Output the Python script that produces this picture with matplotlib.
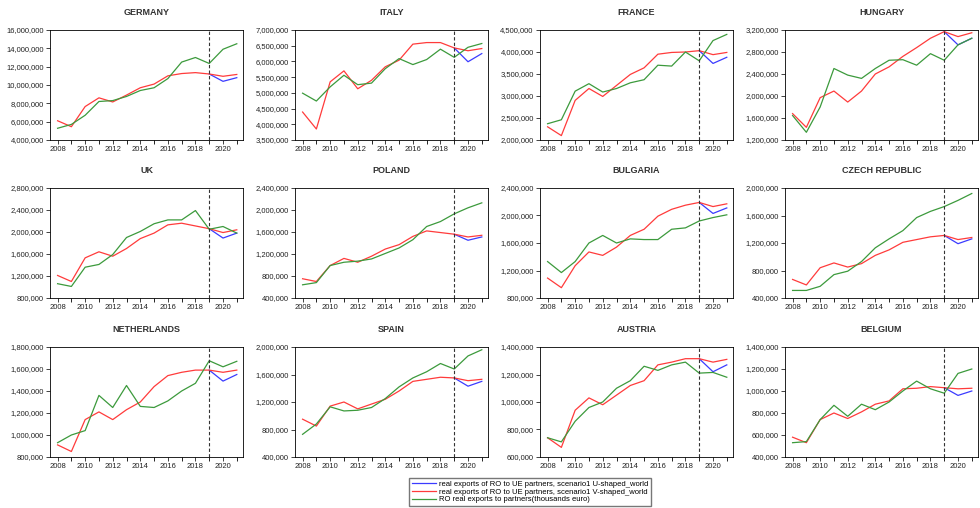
import numpy as np
import matplotlib
matplotlib.use('Agg')
import matplotlib.pyplot as plt
from matplotlib.ticker import FuncFormatter, MultipleLocator

plt.rcParams['font.family'] = ['Liberation Sans', 'DejaVu Sans']

years = list(range(2008, 2022))
scen_years = [2019, 2020, 2021]

countries = ['GERMANY', 'ITALY', 'FRANCE', 'HUNGARY',
             'UK', 'POLAND', 'BULGARIA', 'CZECH REPUBLIC',
             'NETHERLANDS', 'SPAIN', 'AUSTRIA', 'BELGIUM']

# values in millions of euro (thousands euro / 1000)
green = {
    'GERMANY': [5.28, 5.7, 6.7, 8.2, 8.3, 8.75, 9.4, 9.7, 10.7, 12.5, 13.0, 12.35, 13.9, 14.5],
    'ITALY': [4.99, 4.74, 5.19, 5.56, 5.26, 5.31, 5.77, 6.09, 5.9, 6.06, 6.39, 6.13, 6.45, 6.57],
    'FRANCE': [2.37, 2.46, 3.11, 3.28, 3.09, 3.17, 3.3, 3.37, 3.7, 3.68, 4.0, 3.8, 4.26, 4.4],
    'HUNGARY': [1.645, 1.34, 1.8, 2.5, 2.38, 2.32, 2.5, 2.65, 2.66, 2.56, 2.77, 2.65, 2.93, 3.05],
    'UK': [1.06, 1.01, 1.36, 1.41, 1.59, 1.9, 2.01, 2.15, 2.22, 2.22, 2.39, 2.05, 2.1, 1.98],
    'POLAND': [0.64, 0.68, 0.99, 1.05, 1.07, 1.11, 1.21, 1.31, 1.46, 1.7, 1.79, 1.93, 2.04, 2.13],
    'BULGARIA': [1.33, 1.17, 1.33, 1.6, 1.71, 1.6, 1.66, 1.65, 1.65, 1.8, 1.82, 1.92, 1.97, 2.01],
    'CZECH REPUBLIC': [0.51, 0.51, 0.57, 0.74, 0.79, 0.93, 1.13, 1.26, 1.38, 1.57, 1.66, 1.73, 1.82, 1.92],
    'NETHERLANDS': [0.93, 1.0, 1.04, 1.36, 1.25, 1.45, 1.26, 1.25, 1.31, 1.4, 1.47, 1.675, 1.62, 1.67],
    'SPAIN': [0.73, 0.88, 1.13, 1.07, 1.08, 1.12, 1.25, 1.42, 1.55, 1.64, 1.76, 1.68, 1.87, 1.96],
    'AUSTRIA': [0.74, 0.71, 0.86, 0.96, 1.0, 1.1, 1.155, 1.26, 1.23, 1.27, 1.29, 1.21, 1.215, 1.18],
    'BELGIUM': [0.53, 0.54, 0.74, 0.87, 0.77, 0.88, 0.83, 0.9, 1.0, 1.09, 1.02, 0.98, 1.16, 1.2],
}

red = {
    'GERMANY': [6.1, 5.45, 7.65, 8.6, 8.15, 8.9, 9.7, 10.1, 11.0, 11.25, 11.35, 11.2, 10.95, 11.15],
    'ITALY': [4.39, 3.85, 5.35, 5.7, 5.13, 5.4, 5.83, 6.04, 6.55, 6.6, 6.6, 6.43, 6.34, 6.41],
    'FRANCE': [2.3, 2.1, 2.9, 3.17, 2.99, 3.24, 3.49, 3.64, 3.95, 3.99, 4.0, 4.03, 3.94, 3.99],
    'HUNGARY': [1.68, 1.43, 1.97, 2.09, 1.89, 2.09, 2.4, 2.53, 2.72, 2.88, 3.05, 3.17, 3.08, 3.15],
    'UK': [1.21, 1.1, 1.53, 1.64, 1.56, 1.7, 1.88, 1.98, 2.13, 2.16, 2.11, 2.06, 1.99, 2.04],
    'POLAND': [0.75, 0.7, 0.99, 1.12, 1.05, 1.16, 1.29, 1.37, 1.52, 1.62, 1.59, 1.56, 1.51, 1.54],
    'BULGARIA': [1.09, 0.95, 1.27, 1.47, 1.42, 1.54, 1.71, 1.8, 1.99, 2.09, 2.15, 2.19, 2.13, 2.17],
    'CZECH REPUBLIC': [0.67, 0.59, 0.84, 0.91, 0.85, 0.9, 1.02, 1.1, 1.21, 1.25, 1.29, 1.31, 1.25, 1.28],
    'NETHERLANDS': [0.91, 0.85, 1.14, 1.21, 1.14, 1.23, 1.3, 1.44, 1.54, 1.57, 1.59, 1.59, 1.57, 1.59],
    'SPAIN': [0.95, 0.85, 1.14, 1.2, 1.1, 1.17, 1.24, 1.36, 1.5, 1.53, 1.56, 1.55, 1.51, 1.53],
    'AUSTRIA': [0.74, 0.67, 0.94, 1.03, 0.98, 1.05, 1.12, 1.155, 1.27, 1.29, 1.315, 1.315, 1.29, 1.31],
    'BELGIUM': [0.58, 0.53, 0.74, 0.8, 0.75, 0.81, 0.88, 0.91, 1.02, 1.025, 1.04, 1.03, 1.02, 1.025],
}

blue = {
    'GERMANY': [11.2, 10.4, 10.8],
    'ITALY': [6.43, 5.99, 6.25],
    'FRANCE': [4.03, 3.74, 3.88],
    'HUNGARY': [3.17, 2.93, 3.05],
    'UK': [2.06, 1.89, 1.98],
    'POLAND': [1.56, 1.45, 1.51],
    'BULGARIA': [2.19, 2.03, 2.11],
    'CZECH REPUBLIC': [1.31, 1.19, 1.26],
    'NETHERLANDS': [1.59, 1.49, 1.55],
    'SPAIN': [1.55, 1.43, 1.5],
    'AUSTRIA': [1.315, 1.22, 1.27],
    'BELGIUM': [1.03, 0.96, 1.0],
}

# y range (min, max, step) in millions
yranges = {
    'GERMANY': (4, 16, 2), 'ITALY': (3.5, 7, 0.5), 'FRANCE': (2, 4.5, 0.5), 'HUNGARY': (1.2, 3.2, 0.4),
    'UK': (0.8, 2.8, 0.4), 'POLAND': (0.4, 2.4, 0.4), 'BULGARIA': (0.8, 2.4, 0.4), 'CZECH REPUBLIC': (0.4, 2.0, 0.4),
    'NETHERLANDS': (0.8, 1.8, 0.2), 'SPAIN': (0.4, 2.0, 0.4), 'AUSTRIA': (0.6, 1.4, 0.2), 'BELGIUM': (0.4, 1.4, 0.2),
}

labels = ['real exports of RO to UE partners, scenario1 U-shaped_world',
          'real exports of RO to UE partners, scenario1 V-shaped_world',
          'RO real exports to partners(thousands euro)']

C_BLUE = '#3b3bff'
C_RED = '#ff3b3b'
C_GREEN = '#3c9a3c'

W, H = 980, 508
fig = plt.figure(figsize=(W / 100, H / 100), dpi=100)

col_left = [50, 295, 540, 785]
ax_w = 193
row_top = [30, 188, 347]
ax_h = 110

fmt = FuncFormatter(lambda v, p: f"{int(round(v * 1e6)):,}")

lines = None
for i, name in enumerate(countries):
    r, c = divmod(i, 4)
    x0 = col_left[c] / W
    y0 = 1 - (row_top[r] + ax_h) / H
    ax = fig.add_axes([x0, y0, ax_w / W, ax_h / H])

    l1, = ax.plot(scen_years, blue[name], color=C_BLUE, lw=0.9)
    l2, = ax.plot(years, red[name], color=C_RED, lw=0.9)
    l3, = ax.plot(years, green[name], color=C_GREEN, lw=0.9)
    lines = [l1, l2, l3]
    ax.axvline(2019, color='#333333', ls='--', lw=0.8, dashes=(3, 2))

    lo, hi, st = yranges[name]
    ax.set_ylim(lo, hi)
    ax.set_yticks(np.arange(lo, hi + st / 2, st))
    ax.yaxis.set_major_formatter(fmt)
    ax.set_xlim(2007.45, 2021.45)
    ax.set_xticks(range(2008, 2022, 2))
    ax.xaxis.set_minor_locator(MultipleLocator(1))
    ax.tick_params(axis='both', which='major', labelsize=5.5, length=3, width=0.6,
                   pad=1.5, colors='#222222')
    ax.tick_params(axis='x', which='minor', length=3, width=0.6)
    for s in ax.spines.values():
        s.set_linewidth(0.6)
    ax.set_title(name, fontsize=6.5, fontweight='bold', color='#333333', pad=11)

fig.legend(lines, labels, loc='center', bbox_to_anchor=(530 / W, 1 - 492 / H),
           fontsize=5.5, frameon=True, fancybox=False, edgecolor='#555555',
           handlelength=3.2, borderpad=0.3, labelspacing=0.05, handletextpad=0.4)

plt.savefig('out.png', dpi=100)
